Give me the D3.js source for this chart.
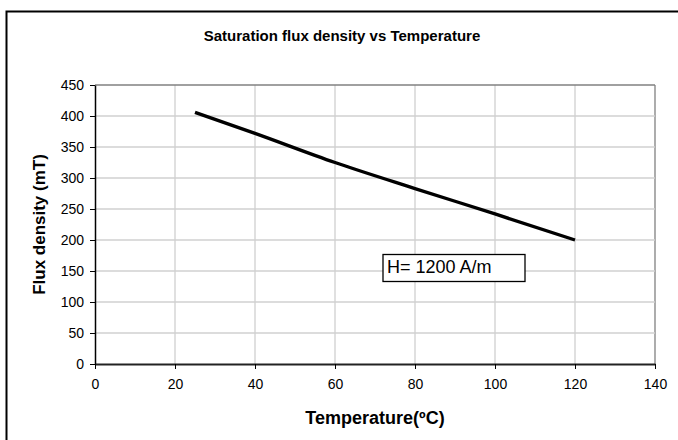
<!DOCTYPE html>
<html><head><meta charset="utf-8">
<script src="https://cdn.jsdelivr.net/npm/d3@7"></script>
<style>body{margin:0;background:#fff}svg{display:block}text{font-family:"Liberation Sans",Arial,sans-serif}</style>
</head><body>
<script>
const temperature = [25, 40, 60, 80, 100, 120];
const fluxDensity = [406, 372, 325, 283, 242, 200];
const xTicks = [0, 20, 40, 60, 80, 100, 120, 140];
const yTicks = [0, 50, 100, 150, 200, 250, 300, 350, 400, 450];
const titleText = "Saturation flux density vs Temperature";
const xTitle = "Temperature(ºC)";
const yTitle = "Flux density (mT)";
const annotation = "H= 1200 A/m";

const W = 678, H = 440;
const svg = d3.select("body").append("svg").attr("width", W).attr("height", H);
const x = d3.scaleLinear().domain([0, 140]).range([95, 655]);
const y = d3.scaleLinear().domain([0, 450]).range([364, 85]);

// outer chart border
svg.append("path").attr("d", `M6.5,${H+5}V11.5H${W+5}`).attr("fill","none").attr("stroke","#000").attr("stroke-width",2);

// gridlines
svg.append("g").selectAll("line.v").data(xTicks.slice(1)).join("line")
  .attr("x1", d=>x(d)).attr("x2", d=>x(d)).attr("y1", y(0)).attr("y2", y(450))
  .attr("stroke", d=> d===140 ? "#808080" : "#d0d0d0").attr("stroke-width", 1.3);
svg.append("g").selectAll("line.h").data(yTicks.slice(1)).join("line")
  .attr("x1", x(0)).attr("x2", x(140)).attr("y1", d=>y(d)).attr("y2", d=>y(d))
  .attr("stroke", d=> d===450 ? "#808080" : "#d0d0d0").attr("stroke-width", 1.3);

// axes
const xAxis = svg.append("g").attr("transform", `translate(0,${y(0)})`)
  .call(d3.axisBottom(x).tickValues(xTicks).tickSize(5).tickSizeOuter(0).tickPadding(10));
const yAxis = svg.append("g").attr("transform", `translate(${x(0)},0)`)
  .call(d3.axisLeft(y).tickValues(yTicks).tickSize(5).tickSizeOuter(0).tickPadding(6));
[xAxis, yAxis].forEach(g => {
  g.selectAll("text").attr("font-size", "14px").attr("fill", "#000").style("font-family", '"Liberation Sans",Arial,sans-serif');
  g.selectAll("line").attr("stroke", "#000");
});
xAxis.select(".domain").attr("stroke", "#222").attr("stroke-width", 2);
yAxis.select(".domain").attr("stroke", "#000").attr("stroke-width", 1.5);

// data line
const line = d3.line().x((d,i)=>x(temperature[i])).y(d=>y(d)).curve(d3.curveMonotoneX);
svg.append("path").datum(fluxDensity).attr("d", line).attr("fill","none")
  .attr("stroke","#000").attr("stroke-width",3.4);

// annotation box
const bx = 383, by = 254.5;
svg.append("rect").attr("x", bx).attr("y", by).attr("width", 142).attr("height", 27)
  .attr("fill","#fff").attr("stroke","#000").attr("stroke-width",1.3);
svg.append("text").attr("x", bx+4).attr("y", by+18).attr("font-size","18px").text(annotation);

// titles
svg.append("text").attr("x", 342).attr("y", 40.5).attr("text-anchor","middle")
  .attr("font-size","15px").attr("font-weight","bold").text(titleText);
svg.append("text").attr("x", (x(0)+x(140))/2).attr("y", 424).attr("text-anchor","middle")
  .attr("font-size","18px").attr("font-weight","bold").text(xTitle);
svg.append("text").attr("transform", `translate(45,${(y(0)+y(450))/2}) rotate(-90)`)
  .attr("text-anchor","middle").attr("font-size","17px").attr("font-weight","bold").text(yTitle);
</script>
</body></html>
